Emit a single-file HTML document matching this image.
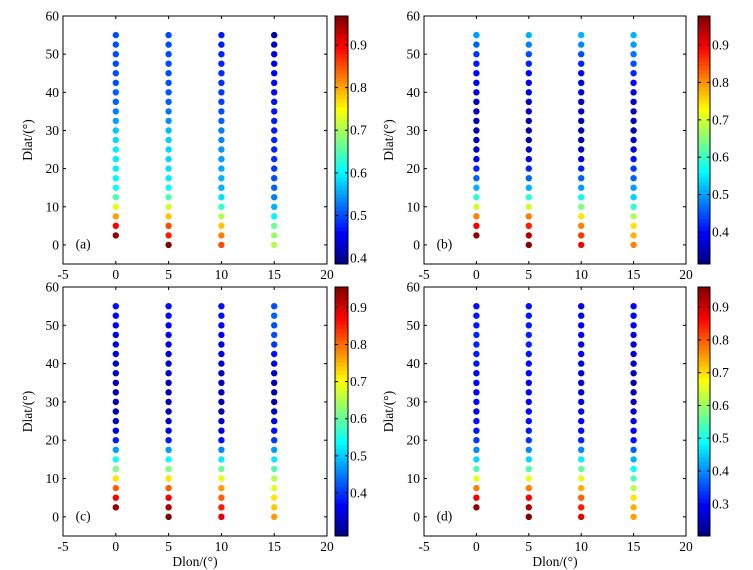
<!DOCTYPE html>
<html><head><meta charset="utf-8"><style>
html,body{margin:0;padding:0;background:#fff;}
svg{display:block;font-family:"Liberation Serif","Times New Roman",serif;}
</style></head><body>
<svg id="s" width="753" height="570" xmlns="http://www.w3.org/2000/svg"></svg>
<script>
function jet(t){t=Math.max(0,Math.min(1,t));
function c(x){return Math.max(0,Math.min(1,x));}
var r=c(1.5-Math.abs(4*t-3)),g=c(1.5-Math.abs(4*t-2)),b=c(1.5-Math.abs(4*t-1));
return 'rgb('+Math.round(r*255)+','+Math.round(g*255)+','+Math.round(b*255)+')';}
var P=[
{L:63,R:327,T:16,B:264,cb:335,cbw:13,lo:0.386,hi:0.968,ticks:[0.4,0.5,0.6,0.7,0.8,0.9],lab:'(a)',xl:false,
cols:[[0.98,0.88,0.72,0.6,0.45,0.38,0.37,0.36,0.36,0.36,0.34,0.32,0.28,0.25,0.22,0.22,0.2,0.2,0.2,0.2,0.2,0.2],
[1,0.85,0.8,0.68,0.58,0.45,0.38,0.36,0.35,0.34,0.34,0.33,0.31,0.27,0.24,0.22,0.21,0.2,0.2,0.2,0.2,0.2,0.2],
[0.8,0.75,0.68,0.55,0.42,0.35,0.3,0.3,0.29,0.28,0.27,0.26,0.25,0.22,0.2,0.19,0.18,0.17,0.17,0.16,0.16,0.15,0.15],
[0.55,0.52,0.48,0.37,0.3,0.25,0.22,0.2,0.18,0.17,0.16,0.16,0.15,0.15,0.14,0.14,0.13,0.13,0.12,0.11,0.1,0.07,0.04]]},
{L:424,R:686,T:16,B:264,cb:698,cbw:12,lo:0.314,hi:0.978,ticks:[0.4,0.5,0.6,0.7,0.8,0.9],lab:'(b)',xl:false,
cols:[[0.98,0.88,0.75,0.58,0.42,0.3,0.22,0.16,0.1,0.07,0.05,0.05,0.05,0.06,0.07,0.09,0.11,0.13,0.15,0.18,0.22,0.28],
[1,0.95,0.85,0.75,0.58,0.42,0.3,0.22,0.16,0.1,0.07,0.05,0.05,0.05,0.06,0.07,0.09,0.11,0.13,0.16,0.2,0.25,0.3],
[0.88,0.82,0.75,0.65,0.5,0.38,0.28,0.22,0.16,0.1,0.07,0.05,0.05,0.05,0.06,0.07,0.09,0.11,0.13,0.16,0.2,0.26,0.3],
[0.75,0.7,0.65,0.55,0.42,0.33,0.28,0.22,0.18,0.14,0.1,0.07,0.05,0.05,0.06,0.08,0.1,0.13,0.16,0.2,0.24,0.28,0.3]]},
{L:63,R:327,T:287,B:536,cb:335,cbw:13,lo:0.284,hi:0.955,ticks:[0.4,0.5,0.6,0.7,0.8,0.9],lab:'(c)',xl:true,
cols:[[0.98,0.88,0.78,0.65,0.5,0.38,0.28,0.15,0.1,0.07,0.05,0.05,0.05,0.06,0.07,0.08,0.09,0.1,0.11,0.12,0.13,0.14],
[1,0.95,0.88,0.78,0.65,0.5,0.38,0.28,0.15,0.1,0.07,0.05,0.05,0.05,0.06,0.07,0.08,0.09,0.1,0.11,0.12,0.13,0.14],
[0.9,0.85,0.78,0.72,0.6,0.48,0.36,0.26,0.14,0.1,0.07,0.05,0.05,0.05,0.06,0.07,0.09,0.1,0.11,0.12,0.13,0.14,0.14],
[0.72,0.68,0.65,0.6,0.55,0.45,0.36,0.28,0.18,0.14,0.1,0.07,0.05,0.05,0.06,0.08,0.1,0.14,0.18,0.2,0.2,0.22,0.2]]},
{L:424,R:686,T:287,B:536,cb:698,cbw:12,lo:0.202,hi:0.961,ticks:[0.3,0.4,0.5,0.6,0.7,0.8,0.9],lab:'(d)',xl:true,
cols:[[0.98,0.88,0.75,0.6,0.45,0.34,0.26,0.18,0.15,0.14,0.13,0.13,0.13,0.13,0.13,0.14,0.15,0.16,0.16,0.15,0.15,0.14],
[1,0.96,0.88,0.75,0.6,0.45,0.34,0.26,0.18,0.15,0.14,0.13,0.13,0.13,0.13,0.13,0.14,0.15,0.16,0.16,0.15,0.15,0.14],
[0.9,0.85,0.78,0.7,0.6,0.48,0.36,0.26,0.16,0.13,0.12,0.11,0.1,0.1,0.1,0.1,0.11,0.12,0.12,0.12,0.12,0.12,0.12],
[0.72,0.7,0.65,0.55,0.45,0.38,0.3,0.22,0.14,0.12,0.1,0.08,0.06,0.05,0.05,0.06,0.07,0.08,0.09,0.1,0.11,0.12,0.13]]}
];
var h='';
P.forEach(function(p){
var sx=(p.R-p.L)/25, sy=(p.B-p.T)/65;
function X(v){return p.L+(v+5)*sx;} function Y(v){return p.T+(60-v)*sy;}
h+='<rect x="'+p.L+'" y="'+p.T+'" width="'+(p.R-p.L)+'" height="'+(p.B-p.T)+'" fill="#fff" stroke="#000" stroke-width="1"/>';
[-5,0,5,10,15,20].forEach(function(v){var x=X(v);
h+='<line x1="'+x+'" y1="'+p.B+'" x2="'+x+'" y2="'+(p.B-3)+'" stroke="#000"/><line x1="'+x+'" y1="'+p.T+'" x2="'+x+'" y2="'+(p.T+3)+'" stroke="#000"/>';
h+='<text x="'+x+'" y="'+(p.B+15)+'" font-size="13.5" text-anchor="middle">'+v+'</text>';});
[0,10,20,30,40,50,60].forEach(function(v){var y=Y(v);
h+='<line x1="'+p.L+'" y1="'+y+'" x2="'+(p.L+3)+'" y2="'+y+'" stroke="#000"/><line x1="'+p.R+'" y1="'+y+'" x2="'+(p.R-3)+'" y2="'+y+'" stroke="#000"/>';
h+='<text x="'+(p.L-4)+'" y="'+(y+4.5)+'" font-size="13.5" text-anchor="end">'+v+'</text>';});
var cy=(p.T+p.B)/2;
h+='<text transform="translate('+(p.L-31)+','+cy+') rotate(-90)" font-size="13.5" text-anchor="middle">Dlat/(°)</text>';
if(p.xl)h+='<text x="'+X(7.5)+'" y="'+(p.B+30)+'" font-size="13.5" text-anchor="middle">Dlon/(°)</text>';
h+='<text x="'+(X(-3.8))+'" y="'+(Y(-1))+'" font-size="13.5">'+p.lab+'</text>';
p.cols.forEach(function(col,i){var x=X(i*5);var start=(col.length==22)?2.5:0;
col.forEach(function(t,j){h+='<circle cx="'+x.toFixed(1)+'" cy="'+Y(start+j*2.5).toFixed(1)+'" r="3.2" fill="'+jet(t)+'"/>';});});
var n=60,hh=(p.B-p.T)/n;
for(var k=0;k<n;k++){h+='<rect x="'+p.cb+'" y="'+(p.B-(k+1)*hh).toFixed(2)+'" width="'+p.cbw+'" height="'+(hh+0.5).toFixed(2)+'" fill="'+jet((k+0.5)/n)+'"/>';}
h+='<rect x="'+p.cb+'" y="'+p.T+'" width="'+p.cbw+'" height="'+(p.B-p.T)+'" fill="none" stroke="#000"/>';
p.ticks.forEach(function(v){var y=p.B-(v-p.lo)/(p.hi-p.lo)*(p.B-p.T);
h+='<line x1="'+(p.cb+p.cbw)+'" y1="'+y+'" x2="'+(p.cb+p.cbw-3)+'" y2="'+y+'" stroke="#000"/><line x1="'+p.cb+'" y1="'+y+'" x2="'+(p.cb+3)+'" y2="'+y+'" stroke="#000"/>';
h+='<text x="'+(p.cb+p.cbw+2)+'" y="'+(y+4.5)+'" font-size="13.5">'+v.toFixed(1)+'</text>';});
});
document.getElementById('s').innerHTML=h;
</script>
</body></html>
